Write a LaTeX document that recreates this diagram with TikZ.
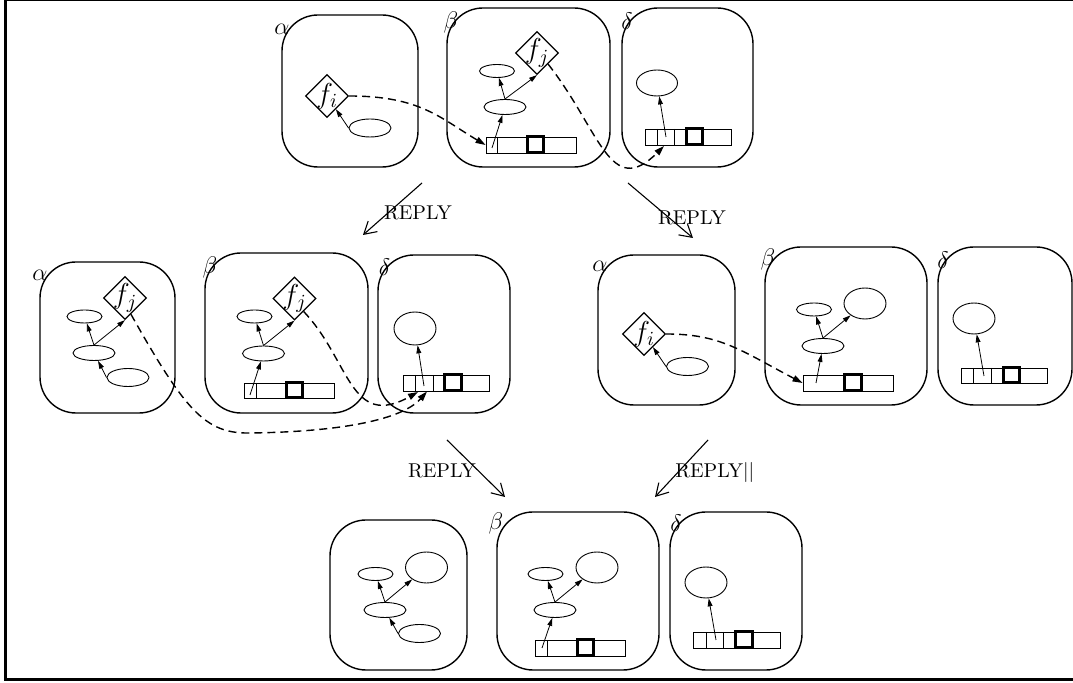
\documentclass[tikz,border=0pt]{standalone}
\usetikzlibrary{shapes.geometric,arrows.meta,fit}
\begin{document}
\begin{tikzpicture}[x=0.5pt,y=-0.5pt,
 region/.style={draw, line width=0.7pt, rounded corners=18pt, inner sep=0pt},
 glab/.style={inner sep=0pt, font=\large},
 fdia/.style={draw, shape=diamond, line width=0.6pt, minimum width=21.5pt, minimum height=21.5pt, inner sep=0pt},
 ftxt/.style={inner sep=0pt, font=\Large},
 ell/.style={draw, ellipse, line width=0.45pt, inner sep=0pt},
 esmall/.style={ell, minimum width=17.5pt, minimum height=6.5pt},
 emid/.style={ell, minimum width=21pt, minimum height=7.5pt},
 ebot/.style={ell, minimum width=21pt, minimum height=9pt},
 ebig/.style={ell, minimum width=21pt, minimum height=15.5pt},
 arr/.style={draw, line width=0.45pt, inner sep=0pt},
 cellline/.style={line width=0.35pt},
 boldcell/.style={draw, line width=1.5pt},
 ptr/.style={line width=0.4pt, -{Triangle[length=4pt,width=2.4pt]}},
 dsh/.style={line width=0.7pt, dash pattern=on 4pt off 2.5pt, -{Triangle[length=5pt,width=3.2pt]}},
 bigarrow/.style={line width=0.55pt, -{Straight Barb[length=6pt,width=7pt]}},
 rlab/.style={inner sep=0pt, anchor=base},
]
\useasboundingbox (0,0) rectangle (1073,683);
\clip (0,0) rectangle (1073,683);
\draw[line width=1.5pt] (1090,0) -- (5.5,0) -- (5.5,679.5) -- (1090,679.5);

% ===== TOP GROUP =====
\node[region, fit={(282,15)(418,167)}] (A1) {};
\node[glab] (A1l) at (282,29) {$\alpha$};
\node[fdia] (A1f) at (327,96) {};
\node[ftxt] (A1ft) at (327,96) {$f_i$};
\node[ebot] (A1e) at (370,128) {};
\draw[ptr] (A1e.west) -- (A1f);

\node[region, fit={(447,8)(610,167)}] (B1) {};
\node[glab] (B1l) at (451,22.5) {$\beta$};
\node[arr, fit={(486,137)(576,153)}] (B1a) {};
\draw[cellline] (497,137) -- (497,153);
\draw[boldcell] (527,137) rectangle (543,153);
\node[emid] (B1m) at (505,107) {};
\node[esmall] (B1t) at (497,71) {};
\node[fdia] (B1f) at (537,53) {};
\node[ftxt] (B1ft) at (537,53) {$f_j$};
\coordinate (B1s) at (492,148);
\draw[ptr] (B1s) -- (B1m);
\draw[ptr] (B1m.north) -- (B1t);
\draw[ptr] (B1m.north) -- (B1f.south);

\node[region, fit={(622,8)(753,167)}] (D1) {};
\node[glab] (D1l) at (627,21.5) {$\delta$};
\node[arr, fit={(645,129)(731,145)}] (D1a) {};
\draw[cellline] (657,129) -- (657,145) (674,129) -- (674,145);
\draw[boldcell] (686,129) rectangle (702,145);
\node[ell, minimum width=20.5pt, minimum height=13pt] (D1e) at (657,83) {};
\coordinate (D1s) at (666,137);
\draw[ptr] (D1s) -- (D1e);
\coordinate (D1in) at (664,146);

\draw[dsh] (A1f.east) .. controls (420,96) and (440,118) .. (B1a.west);
\draw[dsh] (B1f.south east) .. controls (600,130) and (610,200) .. (D1in);

% REPLY arrows (top)
\coordinate (R1s) at (422,183); \coordinate (R1e) at (363,235);
\draw[bigarrow] (R1s) -- (R1e);
\node[rlab] (R1l) at (418,220) {REPLY};
\coordinate (R2s) at (628,183); \coordinate (R2e) at (693,238);
\draw[bigarrow] (R2s) -- (R2e);
\node[rlab] (R2l) at (692,225) {REPLY};

% ===== MIDDLE LEFT =====
\node[region, fit={(40,262)(175,413)}] (A2) {};
\node[glab] (A2l) at (40,275) {$\alpha$};
\node[fdia] (A2f) at (125,298) {};
\node[ftxt] (A2ft) at (125,298) {$f_j$};
\node[esmall] (A2t) at (84.5,316.5) {};
\node[emid] (A2m) at (94,353) {};
\node[ebot] (A2b) at (128,377.5) {};
\draw[ptr] (A2m.north) -- (A2t);
\draw[ptr] (A2m.north) -- (A2f.south);
\draw[ptr] (A2b.west) -- (A2m);

\node[region, fit={(205,253)(368,413)}] (B2) {};
\node[glab] (B2l) at (210,268) {$\beta$};
\node[arr, fit={(244,383)(334,398)}] (B2a) {};
\draw[cellline] (256,383) -- (256,398);
\draw[boldcell] (286,383) rectangle (302,398);
\node[fdia] (B2f) at (294.5,298.5) {};
\node[ftxt] (B2ft) at (294.5,298.5) {$f_j$};
\node[esmall] (B2t) at (254.5,316.5) {};
\node[emid] (B2m) at (263.5,353.5) {};
\coordinate (B2s) at (250,395);
\draw[ptr] (B2s) -- (B2m);
\draw[ptr] (B2m.north) -- (B2t);
\draw[ptr] (B2m.north) -- (B2f.south);

\node[region, fit={(378,255)(510,413)}] (D2) {};
\node[glab] (D2l) at (384.5,267.5) {$\delta$};
\node[arr, fit={(403,375)(489,391)}] (D2a) {};
\draw[cellline] (415,375) -- (415,391) (433,375) -- (433,391);
\draw[boldcell] (444,375) rectangle (461,391);
\node[ell, minimum width=21pt, minimum height=16.5pt] (D2e) at (415,328.5) {};
\coordinate (D2s) at (424,386);
\draw[ptr] (D2s) -- (D2e);
\coordinate (D2inA) at (418,392);
\coordinate (D2inB) at (427,391.5);

\draw[dsh] (A2f.-70) .. controls (185,410) and (205,434) .. (250,433) .. controls (330,432) and (400,422) .. (D2inB);
\draw[dsh] (B2f.-55) .. controls (350,360) and (350,430) .. (D2inA);

% ===== MIDDLE RIGHT =====
\node[region, fit={(598,255)(735,405)}] (A3) {};
\node[glab] (A3l) at (600,266.5) {$\alpha$};
\node[fdia] (A3f) at (644,334) {};
\node[ftxt] (A3ft) at (644,334) {$f_i$};
\node[ebot] (A3e) at (687.5,366.5) {};
\draw[ptr] (A3e.west) -- (A3f);

\node[region, fit={(765,247)(927,405)}] (B3) {};
\node[glab] (B3l) at (768,260) {$\beta$};
\node[arr, fit={(803,375)(893,391)}] (B3a) {};
\draw[boldcell] (844,375) rectangle (861,391);
\node[esmall] (B3t) at (814,309.5) {};
\node[ebig] (B3g) at (865,303.5) {};
\node[emid] (B3m) at (823,346) {};
\coordinate (B3s) at (816,383);
\draw[ptr] (B3s) -- (B3m);
\draw[ptr] (B3m.north) -- (B3t);
\draw[ptr] (B3m.north) -- (B3g);

\draw[dsh] (A3f.east) .. controls (720,334) and (740,350) .. (B3a.west);

\node[region, fit={(938,247)(1072,405)}] (D3) {};
\node[glab] (D3l) at (943,260) {$\delta$};
\node[arr, fit={(961.5,368)(1047.5,383)}] (D3a) {};
\draw[cellline] (973.3,368) -- (973.3,383) (991.7,368) -- (991.7,383);
\draw[boldcell] (1003.3,368) rectangle (1019.3,383);
\node[ell, minimum width=21pt, minimum height=15.5pt] (D3e) at (974,318.5) {};
\coordinate (D3s) at (984,376);
\draw[ptr] (D3s) -- (D3e);

% REPLY arrows (bottom)
\coordinate (R3s) at (447,440); \coordinate (R3e) at (505,497);
\draw[bigarrow] (R3s) -- (R3e);
\node[rlab] (R3l) at (442,478) {REPLY};
\coordinate (R4s) at (708,440); \coordinate (R4e) at (655,497);
\draw[bigarrow] (R4s) -- (R4e);
\node[rlab, anchor=base west] (R4l) at (675,478) {REPLY$||$};

% ===== BOTTOM GROUP =====
\node[region, fit={(330,520)(467,670)}] (E1) {};
\node[esmall] (E1t) at (375.5,574) {};
\node[ebig] (E1g) at (426.5,567.5) {};
\node[emid] (E1m) at (385,610) {};
\node[ebot] (E1b) at (419.5,633.5) {};
\draw[ptr] (E1m.north) -- (E1t);
\draw[ptr] (E1m.north) -- (E1g);
\draw[ptr] (E1b.west) -- (E1m);

\node[region, fit={(497,512)(659,670)}] (E2) {};
\node[glab] (E2l) at (496,524) {$\beta$};
\node[arr, fit={(535,640)(625,656)}] (E2a) {};
\draw[cellline] (547,640) -- (547,656);
\draw[boldcell] (577,640) rectangle (593,656);
\node[esmall] (E2t) at (545.5,574) {};
\node[ebig] (E2g) at (597,567.5) {};
\node[emid] (E2m) at (555,610) {};
\coordinate (E2s) at (542,648);
\draw[ptr] (E2s) -- (E2m);
\draw[ptr] (E2m.north) -- (E2t);
\draw[ptr] (E2m.north) -- (E2g);

\node[region, fit={(670,512)(802,670)}] (E3) {};
\node[glab] (E3l) at (676,523.5) {$\delta$};
\node[arr, fit={(693,632)(780,648)}] (E3a) {};
\draw[cellline] (706,632) -- (706,648) (723,632) -- (723,648);
\draw[boldcell] (735,632) rectangle (752,648);
\node[ell, minimum width=21pt, minimum height=15.5pt] (E3e) at (706,582.5) {};
\coordinate (E3s) at (716,640);
\draw[ptr] (E3s) -- (E3e);
\end{tikzpicture}
\end{document}
